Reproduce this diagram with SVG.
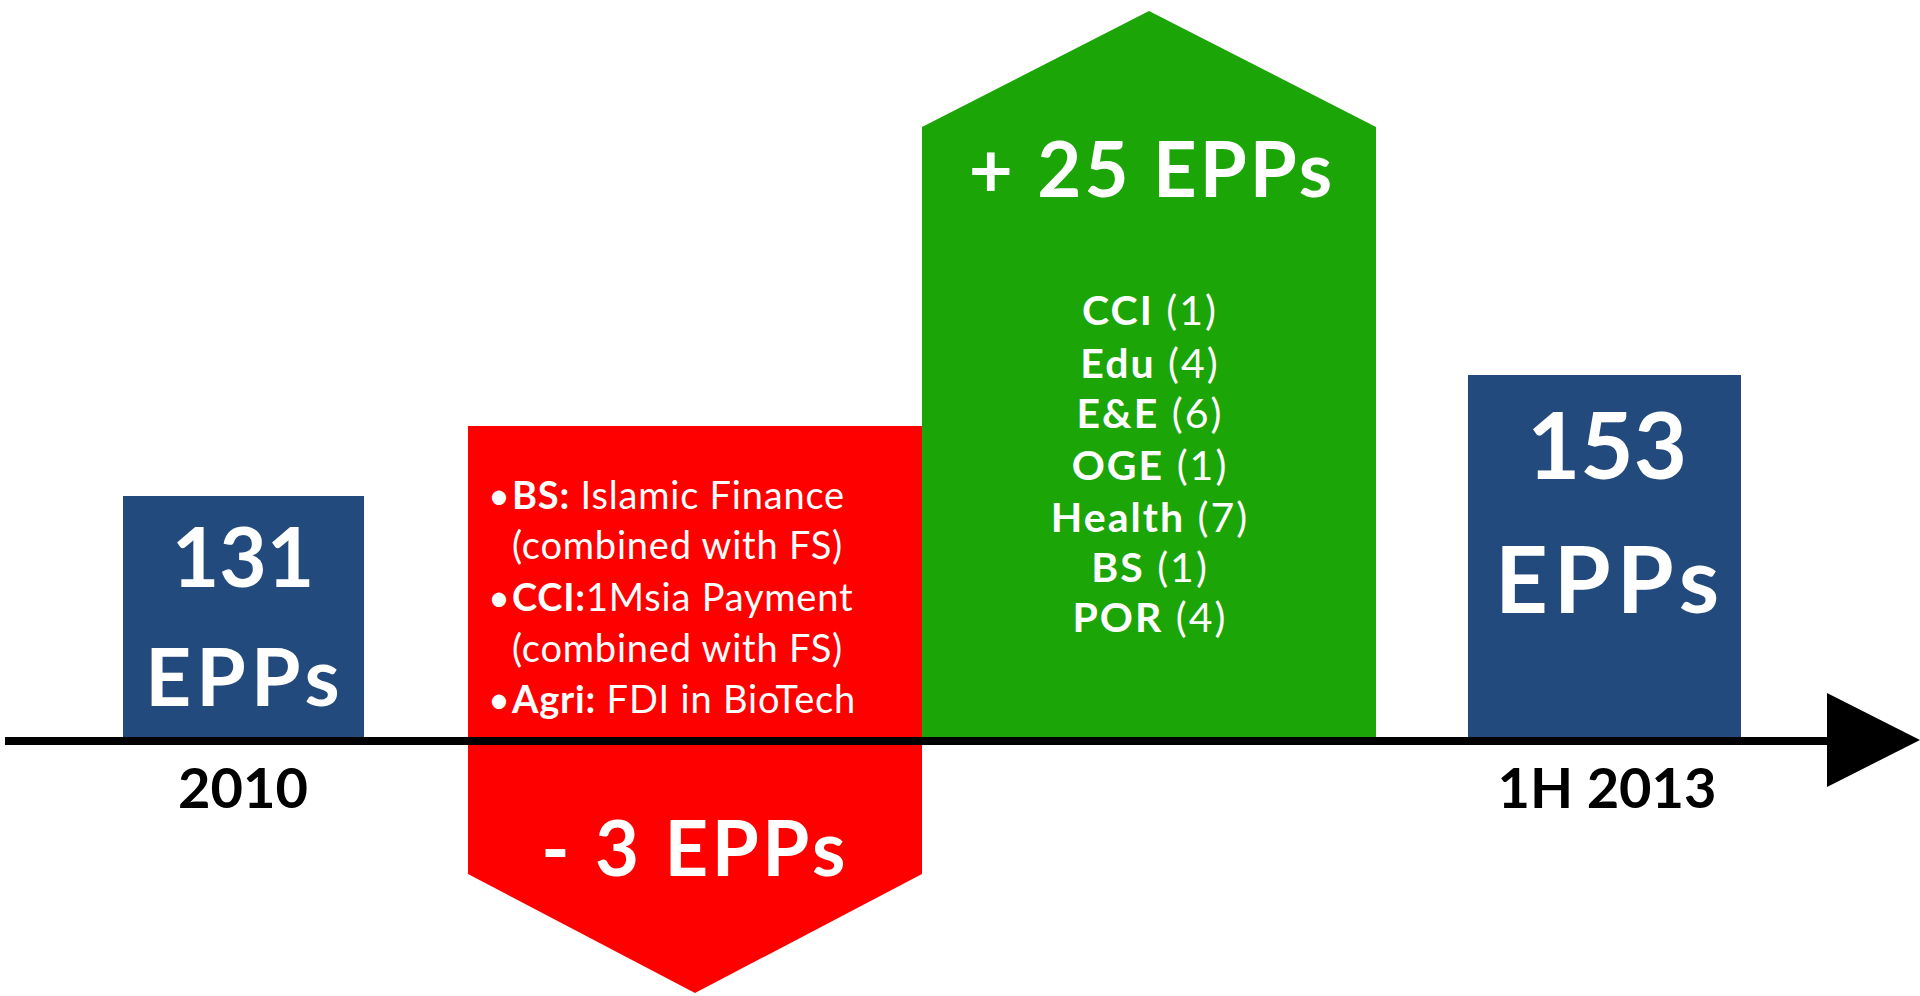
<svg xmlns="http://www.w3.org/2000/svg" width="1920" height="996" viewBox="0 0 1920 996">
<style>
.w{fill:#ffffff;font-family:Lato,"Open Sans","Liberation Sans",sans-serif}
.b{font-weight:700}
.r{font-weight:400}
.k{fill:#000000;font-family:Lato,"Open Sans","Liberation Sans",sans-serif;font-weight:700}
.blue{fill:#224a7c}
</style>
<rect width="1920" height="996" fill="#ffffff"/>
<g id="node-2010">
<rect class="blue" x="123" y="496" width="241" height="241"/>
<text class="w b" x="243" y="587" font-size="82" text-anchor="middle">131</text>
<text class="w b" x="245" y="706" font-size="80" text-anchor="middle" letter-spacing="5">EPPs</text>
</g>
<g id="node-minus">
<polygon points="468,426 922,426 922,874 695,993 468,874" fill="#ff0000"/>
<g font-size="38" letter-spacing="0.8">
<text class="w r" x="488" y="509">•</text>
<text class="w" x="512" y="509"><tspan class="b">BS:</tspan><tspan class="r"> Islamic Finance</tspan></text>
<text class="w r" x="512" y="559">(combined with FS)</text>
<text class="w r" x="488" y="611">•</text>
<text class="w" x="512" y="611"><tspan class="b">CCI:</tspan><tspan class="r">1Msia Payment</tspan></text>
<text class="w r" x="512" y="662">(combined with FS)</text>
<text class="w r" x="488" y="713">•</text>
<text class="w" x="512" y="713"><tspan class="b">Agri:</tspan><tspan class="r"> FDI in BioTech</tspan></text>
</g>
<text class="w b" x="695" y="876" font-size="76" text-anchor="middle" letter-spacing="3.5">- 3 EPPs</text>
</g>
<g id="node-plus">
<polygon points="922,127 1149,11 1376,127 1376,737 922,737" fill="#1ba506"/>
<text class="w b" x="1152" y="197" font-size="76" text-anchor="middle" letter-spacing="3">+ 25 EPPs</text>
<g font-size="41" text-anchor="middle" letter-spacing="2">
<text class="w" x="1150" y="325"><tspan class="b">CCI</tspan><tspan class="r"> (1)</tspan></text>
<text class="w" x="1150" y="378"><tspan class="b">Edu</tspan><tspan class="r"> (4)</tspan></text>
<text class="w" x="1150" y="428"><tspan class="b">E&amp;E</tspan><tspan class="r"> (6)</tspan></text>
<text class="w" x="1150" y="480"><tspan class="b">OGE</tspan><tspan class="r"> (1)</tspan></text>
<text class="w" x="1150" y="532"><tspan class="b">Health</tspan><tspan class="r"> (7)</tspan></text>
<text class="w" x="1150" y="582"><tspan class="b">BS</tspan><tspan class="r"> (1)</tspan></text>
<text class="w" x="1150" y="632"><tspan class="b">POR</tspan><tspan class="r"> (4)</tspan></text>
</g>
</g>
<g id="node-2013">
<rect class="blue" x="1468" y="375" width="273" height="362"/>
<text class="w b" x="1607" y="479" font-size="92" text-anchor="middle">153</text>
<text class="w b" x="1610" y="613" font-size="92" text-anchor="middle" letter-spacing="6">EPPs</text>
</g>
<g id="connectors">
<line x1="5" y1="741" x2="1830" y2="741" stroke="#000000" stroke-width="8"/>
<polygon points="1827,693 1920,740 1827,787" fill="#000000"/>
</g>
<g id="labels">
<text class="k" x="243" y="808" font-size="56" text-anchor="middle">2010</text>
<text class="k" x="1607" y="808" font-size="56" text-anchor="middle">1H 2013</text>
</g>
</svg>
